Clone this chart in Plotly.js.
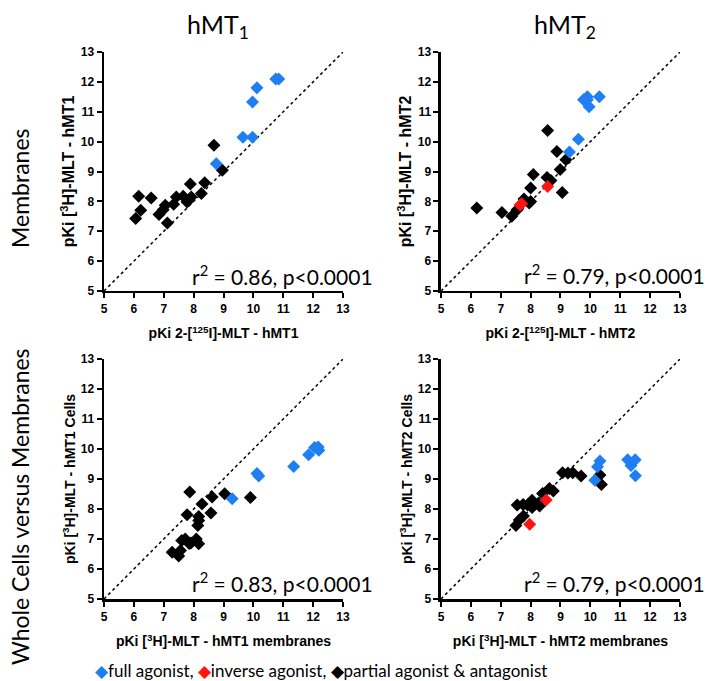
<!DOCTYPE html>
<html>
<head>
<meta charset="utf-8">
<script src="https://cdn.plot.ly/plotly-3.0.1.min.js"></script>
<style>
  html, body { margin: 0; padding: 0; background: #fff; }
  #chart { width: 710px; height: 681px; }
</style>
</head>
<body>
<div id="chart"></div>
<script>
// identity line (x = y)
const identity = [5, 13];

// hMT1 membranes: 2-[125I]-MLT (x) vs [3H]-MLT (y)
const mt1MemFullX = [10.75, 10.85, 10.12, 9.97, 9.65, 9.97, 8.76];
const mt1MemFullY = [12.1, 12.1, 11.8, 11.33, 10.15, 10.15, 9.26];
const mt1MemPartX = [8.68, 8.96, 8.37, 8.26, 7.89, 7.92, 7.78, 7.65, 7.42, 7.33, 7.05, 6.98, 6.84, 7.12, 6.58, 6.16, 6.23, 6.06];
const mt1MemPartY = [9.88, 9.04, 8.62, 8.26, 8.58, 8.15, 7.98, 8.17, 8.15, 7.9, 7.87, 7.72, 7.56, 7.28, 8.11, 8.17, 7.7, 7.43];

// hMT2 membranes
const mt2MemFullX = [10.3, 9.9, 9.96, 9.77, 9.6, 9.3, 9.9];
const mt2MemFullY = [11.5, 11.4, 11.17, 11.4, 10.08, 9.65, 11.5];
const mt2MemInvX = [8.57, 7.7, 7.65];
const mt2MemInvY = [8.5, 7.92, 7.88];
const mt2MemPartX = [8.57, 8.88, 9.18, 8.99, 9.06, 8.55, 8.68, 8.09, 8.0, 8.0, 7.95, 7.78, 7.54, 7.37, 7.04, 6.2];
const mt2MemPartY = [10.37, 9.67, 9.39, 9.07, 8.3, 8.8, 8.7, 8.9, 8.45, 8.0, 7.95, 8.08, 7.71, 7.5, 7.63, 7.78];

// hMT1 whole cells vs membranes
const mt1CellFullX = [12.17, 12.19, 12.05, 11.85, 11.35, 10.12, 10.18, 9.29];
const mt1CellFullY = [10.07, 9.96, 10.05, 9.81, 9.42, 9.18, 9.1, 8.34];
const mt1CellPartX = [9.04, 9.9, 8.62, 8.28, 8.58, 7.87, 7.78, 8.17, 8.17, 8.14, 8.09, 7.72, 7.91, 8.17, 7.6, 7.5, 7.56, 7.28, 7.85];
const mt1CellPartY = [8.51, 8.38, 8.4, 8.17, 7.87, 8.57, 7.81, 7.75, 7.62, 7.45, 7.0, 7.0, 6.87, 6.84, 6.95, 6.43, 6.62, 6.56, 6.85];

// hMT2 whole cells vs membranes
const mt2CellFullX = [10.32, 10.24, 10.15, 11.25, 11.5, 11.36, 11.51];
const mt2CellFullY = [9.6, 9.41, 8.96, 9.64, 9.64, 9.45, 9.11];
const mt2CellInvX = [8.52, 7.97];
const mt2CellInvY = [8.3, 7.49];
const mt2CellPartX = [10.32, 10.37, 9.69, 9.41, 9.07, 9.25, 8.76, 8.63, 8.4, 8.27, 8.05, 8.05, 7.9, 7.75, 7.55, 7.76, 7.62, 7.51, 8.3];
const mt2CellPartY = [9.13, 8.82, 9.1, 9.21, 9.21, 9.2, 8.6, 8.68, 8.52, 8.2, 8.29, 8.05, 8.13, 8.15, 8.13, 7.77, 7.63, 7.45, 8.1];

const stats = ['r<sup>2</sup> = 0.86, p&lt;0.0001', 'r<sup>2</sup> = 0.79, p&lt;0.0001',
               'r<sup>2</sup> = 0.83, p&lt;0.0001', 'r<sup>2</sup> = 0.79, p&lt;0.0001'];

const BLUE = '#1f7ff2';
const RED = '#ff1414';
const BLACK = '#000000';

function pts(x, y, color, ax) {
    return {
        x: x, y: y, xaxis: 'x' + ax, yaxis: 'y' + ax,
        type: 'scatter', mode: 'markers', showlegend: false, hoverinfo: 'x+y',
        marker: { symbol: 'diamond', size: 10, color: color }
    };
}

function diag(ax) {
    return {
        x: identity, y: identity, xaxis: 'x' + ax, yaxis: 'y' + ax,
        type: 'scatter', mode: 'lines', showlegend: false, hoverinfo: 'skip',
        line: { color: BLACK, width: 1.5, dash: 'dot' }
    };
}

const data = [
    diag(''), pts(mt1MemPartX, mt1MemPartY, BLACK, ''), pts(mt1MemFullX, mt1MemFullY, BLUE, ''),
    diag('2'), pts(mt2MemPartX, mt2MemPartY, BLACK, '2'), pts(mt2MemFullX, mt2MemFullY, BLUE, '2'),
    pts(mt2MemInvX, mt2MemInvY, RED, '2'),
    diag('3'), pts(mt1CellPartX, mt1CellPartY, BLACK, '3'), pts(mt1CellFullX, mt1CellFullY, BLUE, '3'),
    diag('4'), pts(mt2CellPartX, mt2CellPartY, BLACK, '4'), pts(mt2CellFullX, mt2CellFullY, BLUE, '4'),
    pts(mt2CellInvX, mt2CellInvY, RED, '4')
];

const SANS = 'Liberation Sans, Arial, sans-serif';
const tickFont = { family: SANS, size: 12, color: BLACK, weight: 'bold' };

function axis(domain, anchor, title, size, standoff) {
    return {
        domain: domain, anchor: anchor, range: [5, 13], dtick: 1, tick0: 5,
        showgrid: false, zeroline: false, showline: true, linecolor: BLACK, linewidth: 2.5,
        ticks: 'outside', ticklen: 5, tickwidth: 2, tickcolor: BLACK,
        tickfont: tickFont, fixedrange: true,
        title: { text: title, font: { family: SANS, size: size, color: BLACK, weight: 'bold' }, standoff: standoff }
    };
}

const colL = [0.1465, 0.4831], colR = [0.6211, 0.9577];
const rowT = [0.5727, 0.9236], rowB = [0.1204, 0.4728];

const LATO = 'Lato, Open Sans, sans-serif';
const bigFont = { family: LATO, size: 23, color: BLACK };
const headFont = { family: LATO, size: 25, color: BLACK };
const statFont = { family: LATO, size: 21, color: BLACK };

function note(text, x, y, font, extra) {
    return Object.assign({ text: text, x: x, y: y, xref: 'paper', yref: 'paper', showarrow: false,
        xanchor: 'center', yanchor: 'middle', font: font }, extra || {});
}

const layout = {
    width: 710, height: 681,
    margin: { l: 0, r: 0, t: 0, b: 0 },
    paper_bgcolor: '#ffffff', plot_bgcolor: '#ffffff',
    showlegend: false,
    xaxis: axis(colL, 'y', 'pKi 2-[<sup>125</sup>I]-MLT - hMT1', 14, 14),
    yaxis: axis(rowT, 'x', 'pKi [<sup>3</sup>H]-MLT - hMT1', 16, 2),
    xaxis2: axis(colR, 'y2', 'pKi 2-[<sup>125</sup>I]-MLT - hMT2', 14, 14),
    yaxis2: axis(rowT, 'x2', 'pKi [<sup>3</sup>H]-MLT - hMT2', 16, 2),
    xaxis3: axis(colL, 'y3', 'pKi [<sup>3</sup>H]-MLT - hMT1 membranes', 14, 14),
    yaxis3: axis(rowB, 'x3', 'pKi [<sup>3</sup>H]-MLT - hMT1 Cells', 14, 2),
    xaxis4: axis(colR, 'y4', 'pKi [<sup>3</sup>H]-MLT - hMT2 membranes', 14, 14),
    yaxis4: axis(rowB, 'x4', 'pKi [<sup>3</sup>H]-MLT - hMT2 Cells', 14, 2),
    annotations: [
        note('hMT<sub>1</sub>', 0.307, 1 - 26 / 681, headFont),
        note('hMT<sub>2</sub>', 0.796, 1 - 26 / 681, headFont),
        note('Membranes', 20 / 710, 1 - 188 / 681, bigFont, { textangle: -90 }),
        note('Whole Cells versus Membranes', 20 / 710, 1 - 507 / 681, bigFont, { textangle: -90 }),
        note(stats[0], 375 / 710, 1 - 275 / 681, statFont, { xanchor: 'right' }),
        note(stats[1], 707 / 710, 1 - 274 / 681, statFont, { xanchor: 'right' }),
        note(stats[2], 375 / 710, 1 - 582 / 681, statFont, { xanchor: 'right' }),
        note(stats[3], 707 / 710, 1 - 582 / 681, statFont, { xanchor: 'right' }),
        note('<span style="color:' + BLUE + '">◆</span>full agonist, ' +
             '<span style="color:' + RED + '">◆</span>inverse agonist, ' +
             '<span style="color:' + BLACK + '">◆</span>partial agonist &amp; antagonist',
             93 / 710, 1 - 670 / 681, { family: LATO, size: 17, color: BLACK }, { xanchor: 'left' })
    ]
};

Plotly.newPlot('chart', data, layout, { staticPlot: true, displayModeBar: false });
</script>
</body>
</html>
